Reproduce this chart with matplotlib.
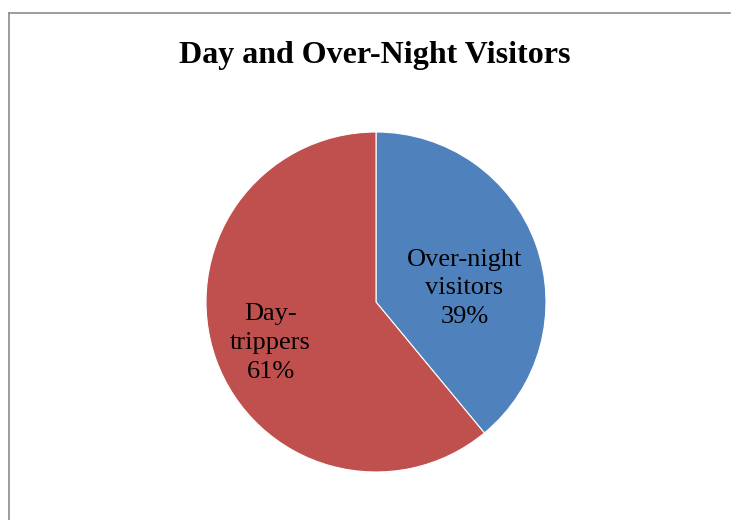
import matplotlib.pyplot as plt
from matplotlib.lines import Line2D

labels = ['Over-night\nvisitors', 'Day-\ntrippers']
shares = [39, 61]
colors = ['#4F81BD', '#C0504D']

plt.rcParams['font.family'] = ['Liberation Serif', 'DejaVu Serif']

W, H = 731, 520
fig = plt.figure(figsize=(W / 100, H / 100), dpi=100)

# chart frame (left and top edges only)
fig.add_artist(Line2D([9 / W, 9 / W], [0, 1 - 13 / H], transform=fig.transFigure,
                      color='#8c8c8c', lw=1.2))
fig.add_artist(Line2D([9 / W, 730 / W], [1 - 13 / H, 1 - 13 / H], transform=fig.transFigure,
                      color='#8c8c8c', lw=1.2))

fig.text(375 / W, 1 - 55 / H, 'Day and Over-Night Visitors', ha='center', va='center',
         fontsize=23, fontweight='bold')

cx, cy, r = 376, 302, 170
ax = fig.add_axes([(cx - r) / W, (H - cy - r) / H, 2 * r / W, 2 * r / H])
wedges, texts = ax.pie(shares, colors=colors, startangle=90, counterclock=False,
                       radius=1, wedgeprops=dict(edgecolor='white', linewidth=0.8),
                       labels=[f'{l}\n{v}%' for l, v in zip(labels, shares)],
                       labeldistance=0.6,
                       textprops=dict(fontsize=19, ha='center', va='center',
                                      linespacing=1.4))
texts[0].set_position((0.52, 0.08))
texts[1].set_position((-0.62, -0.24))
ax.set_xlim(-1, 1)
ax.set_ylim(-1, 1)
ax.set_aspect('equal')
ax.axis('off')

fig.savefig('out.png', dpi=100)
